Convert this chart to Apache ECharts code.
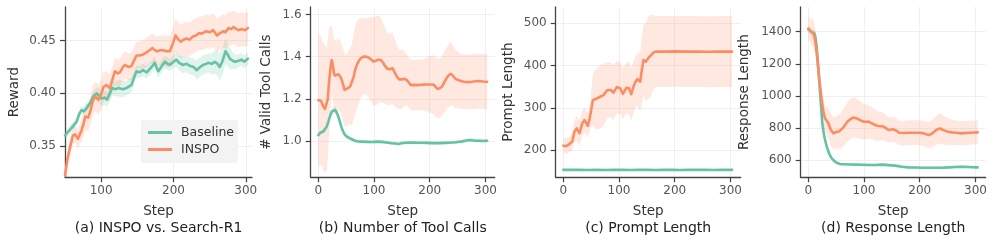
<!DOCTYPE html>
<html><head><meta charset="utf-8">
<script src="https://cdn.jsdelivr.net/npm/echarts@6/dist/echarts.min.js"></script>
<style>html,body{margin:0;padding:0;background:#fff;}#c{width:996px;height:243px;}</style>
</head><body><div id="c"></div>
<script>
// ---------- (a) INSPO vs. Search-R1 : Reward ----------
const stepsBaseA = [50,55,60,66,70,73,76,80,85,89,94,98,101,105,108,112,115,120,124,130,135,142,146,149,153,158,163,167,171,174,177,179,183,188,192,195,200,204,208,213,218,223,228,232,237,241,245,248,253,257,261,264,268,272,275,278,282,285,290,294,298,303];
const baseA = [0.360,0.364,0.368,0.373,0.381,0.384,0.383,0.386,0.391,0.397,0.400,0.397,0.395,0.396,0.394,0.400,0.405,0.404,0.405,0.404,0.405,0.408,0.416,0.421,0.420,0.422,0.420,0.423,0.426,0.429,0.424,0.421,0.425,0.430,0.428,0.427,0.430,0.432,0.429,0.427,0.428,0.426,0.425,0.422,0.425,0.427,0.428,0.429,0.428,0.430,0.428,0.425,0.431,0.440,0.437,0.433,0.431,0.430,0.431,0.432,0.430,0.433];
const baseSdA = [0.004,0.004,0.004,0.004,0.004,0.004,0.004,0.004,0.004,0.005,0.006,0.007,0.007,0.007,0.007,0.007,0.007,0.007,0.008,0.008,0.007,0.007,0.006,0.006,0.006,0.006,0.006,0.006,0.006,0.006,0.006,0.006,0.006,0.006,0.006,0.006,0.006,0.007,0.007,0.008,0.008,0.008,0.008,0.009,0.009,0.009,0.009,0.009,0.010,0.011,0.012,0.013,0.013,0.012,0.011,0.010,0.008,0.007,0.006,0.006,0.006,0.006];
const stepsInspoA = [50,53,57,61,64,68,71,73,76,78,82,85,89,92,96,100,103,107,112,116,119,123,126,130,133,138,142,146,149,153,158,163,167,171,174,177,182,186,190,195,199,203,207,210,214,218,222,227,231,235,240,245,250,255,258,260,264,269,272,276,280,283,287,290,295,299,303];
const inspoA = [0.322,0.336,0.349,0.360,0.361,0.357,0.362,0.365,0.372,0.378,0.377,0.383,0.394,0.397,0.394,0.399,0.406,0.408,0.405,0.414,0.421,0.419,0.420,0.425,0.427,0.425,0.426,0.432,0.436,0.436,0.437,0.439,0.441,0.443,0.441,0.440,0.441,0.441,0.440,0.440,0.447,0.455,0.451,0.449,0.451,0.452,0.451,0.454,0.455,0.457,0.457,0.459,0.458,0.460,0.457,0.455,0.457,0.459,0.458,0.462,0.461,0.463,0.461,0.460,0.461,0.460,0.462];
const inspoSdA = [0.006,0.007,0.008,0.008,0.008,0.009,0.010,0.011,0.012,0.013,0.013,0.014,0.014,0.014,0.014,0.014,0.014,0.013,0.013,0.013,0.013,0.013,0.013,0.013,0.013,0.013,0.013,0.013,0.013,0.013,0.014,0.014,0.014,0.014,0.014,0.014,0.014,0.014,0.015,0.015,0.015,0.016,0.016,0.016,0.016,0.016,0.016,0.016,0.016,0.016,0.016,0.016,0.016,0.016,0.016,0.016,0.016,0.016,0.016,0.016,0.016,0.016,0.016,0.016,0.016,0.016,0.016];

// ---------- (b) Number of Tool Calls ----------
const stepsBaseB = [0,3,6,9,12,15,18,21,24,27,30,33,36,39,42,45,48,52,57,62,66,72,78,86,96,105,114,122,132,138,144,150,156,166,176,186,196,206,216,226,236,246,256,266,272,280,288,296,303];
const baseB = [1.028,1.038,1.044,1.046,1.052,1.068,1.092,1.118,1.139,1.148,1.147,1.135,1.115,1.088,1.062,1.042,1.028,1.019,1.012,1.006,1.001,0.998,0.997,0.996,0.995,0.997,0.996,0.993,0.989,0.988,0.986,0.990,0.992,0.993,0.992,0.992,0.991,0.990,0.990,0.991,0.992,0.994,0.997,1.002,1.005,1.002,1.001,1.000,1.001];
const baseSdB = [0.008,0.008,0.008,0.009,0.010,0.012,0.014,0.016,0.017,0.017,0.016,0.015,0.013,0.012,0.010,0.009,0.008,0.008,0.008,0.008,0.008,0.007,0.007,0.007,0.007,0.007,0.007,0.007,0.007,0.007,0.007,0.007,0.007,0.007,0.007,0.007,0.007,0.007,0.007,0.007,0.007,0.007,0.007,0.008,0.008,0.008,0.008,0.008,0.008];
const stepsInspoB = [0,5,9,12,15,17,19,22,24,26,28,30,33,36,38,40,42,45,47,50,53,57,60,63,66,69,72,76,81,86,90,95,99,103,108,112,116,120,124,128,133,137,141,145,150,155,159,163,166,172,180,188,197,206,210,214,218,222,226,230,234,238,242,246,250,256,261,268,276,282,288,295,303];
const inspoB = [1.194,1.190,1.163,1.152,1.147,1.200,1.273,1.350,1.384,1.360,1.321,1.310,1.305,1.316,1.313,1.302,1.289,1.262,1.242,1.238,1.250,1.258,1.265,1.300,1.336,1.360,1.376,1.392,1.400,1.400,1.395,1.386,1.376,1.380,1.386,1.384,1.372,1.355,1.342,1.340,1.345,1.325,1.305,1.292,1.292,1.295,1.289,1.275,1.265,1.266,1.265,1.267,1.268,1.268,1.258,1.247,1.250,1.258,1.278,1.297,1.312,1.318,1.308,1.295,1.290,1.284,1.281,1.279,1.281,1.283,1.284,1.282,1.281];
const inspoSdB = [0.32,0.30,0.30,0.30,0.29,0.28,0.26,0.20,0.16,0.16,0.16,0.17,0.17,0.17,0.17,0.17,0.17,0.17,0.17,0.17,0.17,0.18,0.19,0.20,0.21,0.21,0.20,0.19,0.18,0.18,0.19,0.20,0.21,0.21,0.21,0.20,0.19,0.18,0.17,0.17,0.17,0.16,0.15,0.14,0.14,0.13,0.12,0.12,0.12,0.12,0.12,0.12,0.13,0.14,0.14,0.14,0.14,0.14,0.145,0.145,0.15,0.15,0.14,0.14,0.135,0.13,0.13,0.13,0.13,0.13,0.13,0.13,0.13];

// ---------- (c) Prompt Length ----------
const stepsBaseC = [0,15,30,45,60,75,90,105,120,135,150,165,180,195,210,225,240,255,270,285,303];
const baseC = [153,153,153,152.5,153,152.5,153,153,152.5,153,153,152.5,153,153,152.5,153,153,153,152.5,153,153];
const baseSdC = [1.5,1.5,1.5,1.5,1.5,1.5,1.5,1.5,1.5,1.5,1.5,1.5,1.5,1.5,1.5,1.5,1.5,1.5,1.5,1.5,1.5];
const stepsInspoC = [0,5,11,16,20,24,29,34,38,44,48,53,57,60,66,72,79,85,90,96,102,107,113,118,122,126,129,133,138,141,144,148,154,158,162,166,180,200,220,240,260,280,303];
const inspoC = [210,209,214,220,243,251,240,263,271,257,279,318,320,320,326,330,342,342,336,349,346,333,347,346,332,350,360,368,362,390,413,409,420,425,431,433,433,433.5,433,433,432.5,433,433];
const inspoSdC = [18,18,18,22,25,30,30,30,30,28,30,60,70,72,75,75,65,65,65,62,62,60,60,62,62,62,60,62,70,80,85,92,98,94,88,84,84,84,84,84,84,84,84];

// ---------- (d) Response Length ----------
const stepsBaseD = [0,3,6,9,11,13,15,17,19,21,22,24,25,28,30,33,36,39,42,45,48,52,57,62,66,75,84,96,108,120,132,144,156,168,180,192,204,216,228,240,252,264,276,288,296,304];
const baseD = [1414,1405,1399,1394,1389,1360,1306,1220,1119,1020,974,880,829,760,725,685,652,628,610,598,589,581,575,573,573,572,571,570,569,569,571,568,565,558,554,553,552,552,552,552,554,556,558,556,555,554];
const baseSdD = [20,20,20,20,20,20,20,18,16,15,14,13,12,12,11,10,10,10,9,9,9,8,8,8,8,8,8,8,8,8,8,8,8,8,8,8,8,8,8,8,8,8,8,8,8,8];
const stepsInspoD = [0,3,5,9,11,13,16,18,21,24,27,30,33,36,40,45,48,51,55,58,62,66,70,75,80,83,87,90,95,99,104,108,113,117,122,126,131,135,140,144,149,153,156,159,163,166,172,180,190,198,203,207,212,216,221,226,231,236,240,245,251,257,265,275,283,290,297,304];
const inspoD = [1420,1410,1399,1389,1365,1327,1240,1161,1060,974,900,860,845,829,790,766,770,776,778,779,800,818,838,853,864,866,860,853,845,839,838,839,830,824,815,812,810,808,797,787,790,791,785,781,770,766,768,770,770,770,768,766,760,756,762,776,790,797,790,783,776,772,770,766,768,770,771,772];
const inspoSdD = [75,75,80,85,85,85,85,85,80,80,80,78,85,90,100,100,100,100,105,110,115,120,122,125,125,125,122,120,115,110,108,105,100,98,95,90,88,85,82,80,78,77,77,76,76,76,77,77,77,78,78,78,80,80,85,88,92,95,92,88,84,80,76,75,75,75,75,75];

// ---------- tick labels ----------
const xTicksA = [100,200,300];
const xTicksBCD = [0,100,200,300];
const yTicksA = [0.35,0.40,0.45];
const yTicksB = [1.0,1.2,1.4,1.6];
const yTicksC = [200,300,400,500];
const yTicksD = [600,800,1000,1200,1400];
const yNames = ['Reward','# Valid Tool Calls','Prompt Length','Response Length'];
const captions = ['(a) INSPO vs. Search-R1','(b) Number of Tool Calls','(c) Prompt Length','(d) Response Length'];

const GREEN = '#66c2a5', ORANGE = '#fc8d62';
const GREEN_BAND = 'rgba(102,194,165,0.2)', ORANGE_BAND = 'rgba(252,141,98,0.2)';
const FONT = 'DejaVu Sans';
const AX = '#444';

const panels = [
  {left:65,   width:187, xmin:50,  xmax:308.6, ymin:0.3203, ymax:0.482, xt:xTicksA,   yt:yTicksA, fmt:v=>v.toFixed(2), nameGap:44,
   base:[stepsBaseA,baseA,baseSdA], inspo:[stepsInspoA,inspoA,inspoSdA]},
  {left:310.7,width:184, xmin:-13.7,xmax:316.6, ymin:0.828, ymax:1.635, xt:xTicksBCD, yt:yTicksB, fmt:v=>v.toFixed(1), nameGap:37,
   base:[stepsBaseB,baseB,baseSdB], inspo:[stepsInspoB,inspoB,inspoSdB]},
  {left:555.7,width:185, xmin:-13.7,xmax:318.4, ymin:135.3, ymax:538.6, xt:xTicksBCD, yt:yTicksC, fmt:v=>String(v), nameGap:40,
   base:[stepsBaseC,baseC,baseSdC], inspo:[stepsInspoC,inspoC,inspoSdC]},
  {left:800.7,width:185, xmin:-13.7,xmax:318.4, ymin:492, ymax:1554, xt:xTicksBCD, yt:yTicksD, fmt:v=>String(v), nameGap:49,
   base:[stepsBaseD,baseD,baseSdD], inspo:[stepsInspoD,inspoD,inspoSdD]}
];

function bandSeries(gi, arr, color){
  const [s, v, sd] = arr;
  const data = s.map((x,i)=>[x, v[i]-sd[i], v[i]+sd[i]]);
  return {
    type:'custom', xAxisIndex:gi, yAxisIndex:gi, silent:true, clip:true, z:1,
    data, encode:{x:0, y:[1,2]},
    renderItem:(params, api)=>{
      if (params.dataIndex !== 0) return null;
      const up = data.map(d=>api.coord([d[0], d[2]]));
      const lo = data.map(d=>api.coord([d[0], d[1]])).reverse();
      return {type:'polygon', shape:{points:up.concat(lo)}, style:{fill:color}};
    }
  };
}
function lineSeries(gi, name, arr, color){
  const [s, v] = arr;
  return {
    type:'line', name, xAxisIndex:gi, yAxisIndex:gi, z:3, showSymbol:false, symbol:'none',
    clip:true, animation:false,
    data: s.map((x,i)=>[x, v[i]]),
    lineStyle:{color, width:2.6, cap:'round', join:'round'},
    itemStyle:{color}
  };
}

const grid=[], xAxis=[], yAxis=[], series=[], graphic=[];
panels.forEach((p,i)=>{
  grid.push({left:p.left, width:p.width, top:7, height:170.3, containLabel:false});
  xAxis.push({
    type:'value', gridIndex:i, min:p.xmin, max:p.xmax,
    axisLine:{show:true, onZero:false, lineStyle:{color:AX, width:1.3}},
    axisTick:{show:true, length:5, customValues:p.xt, lineStyle:{color:AX, width:1.2}},
    axisLabel:{customValues:p.xt, color:'#555', fontSize:12, fontFamily:FONT, margin:8, formatter:v=>String(v)},
    splitLine:{show:true, lineStyle:{color:'#ececec', width:0.8}},
    name:'Step', nameLocation:'middle', nameGap:27,
    nameTextStyle:{color:'#333', fontSize:13.5, fontFamily:FONT}
  });
  yAxis.push({
    type:'value', gridIndex:i, min:p.ymin, max:p.ymax,
    axisLine:{show:true, onZero:false, lineStyle:{color:AX, width:1.3}},
    axisTick:{show:true, length:5, customValues:p.yt, lineStyle:{color:AX, width:1.2}},
    axisLabel:{customValues:p.yt, color:'#555', fontSize:12, fontFamily:FONT, margin:9, formatter:p.fmt},
    splitLine:{show:true, lineStyle:{color:'#ececec', width:0.8}},
    name:yNames[i], nameLocation:'middle', nameGap:p.nameGap,
    nameTextStyle:{color:'#333', fontSize:13.5, fontFamily:FONT}
  });
  series.push(bandSeries(i, p.base, GREEN_BAND));
  series.push(bandSeries(i, p.inspo, ORANGE_BAND));
  series.push(lineSeries(i, 'Baseline', p.base, GREEN));
  series.push(lineSeries(i, 'INSPO', p.inspo, ORANGE));
  graphic.push({type:'text', x:p.left + p.width/2, y:228, silent:true,
    style:{text:captions[i], fill:'#222', font:'14px "DejaVu Sans"', textAlign:'center', textVerticalAlign:'middle'}});
});

const chart = echarts.init(document.getElementById('c'), null, {renderer:'canvas'});
chart.setOption({
  animation:false,
  backgroundColor:'#fff',
  textStyle:{fontFamily:FONT},
  grid, xAxis, yAxis, series, graphic,
  legend:{
    data:['Baseline','INSPO'], left:141, top:120, orient:'vertical',
    backgroundColor:'#f3f3f3', borderRadius:3, padding:[6,4,7,7],
    itemWidth:24, itemHeight:3, itemGap:4, icon:'rect', selectedMode:false,
    textStyle:{fontSize:12.5, color:'#333', fontFamily:FONT, padding:[0,0,0,4]}
  }
});
</script></body></html>
